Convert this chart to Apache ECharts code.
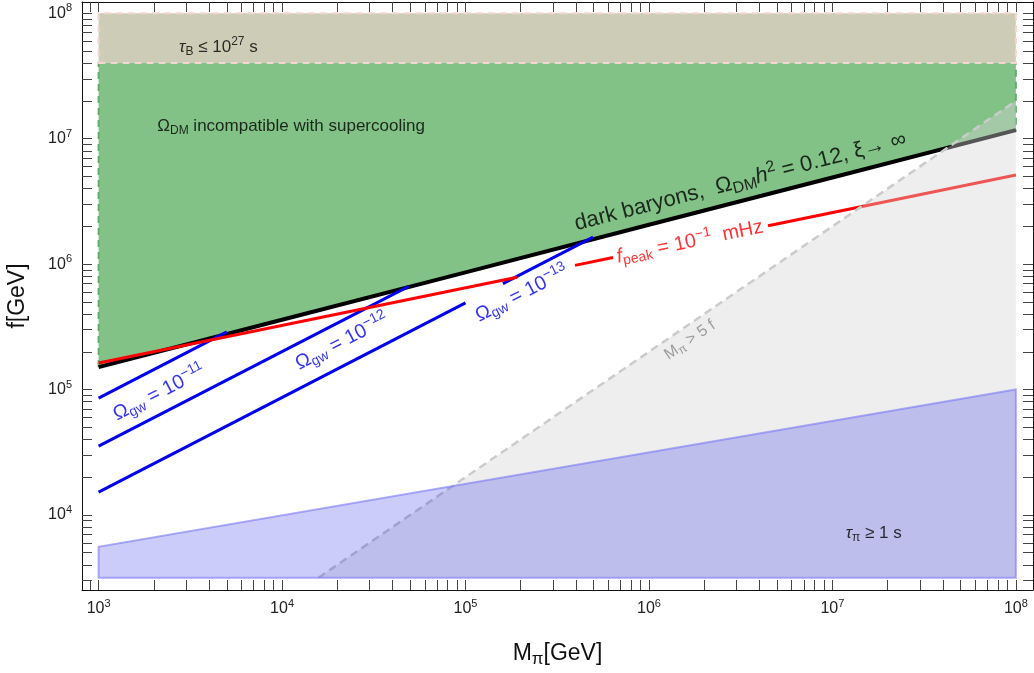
<!DOCTYPE html>
<html><head><meta charset="utf-8">
<script src="https://cdn.jsdelivr.net/npm/echarts@6/dist/echarts.min.js"></script>
<style>html,body{margin:0;padding:0;background:#fff}#c{width:1034px;height:673px}</style>
</head><body><div id="c"></div>
<script>
// ---------- data (GeV) ----------
const xRange = [812, 1.24e8];          // M_pi plot range
const yRange = [2523, 1.23e8];         // f plot range
const xMajor = [1e3, 1e4, 1e5, 1e6, 1e7, 1e8];
const yMajor = [1e4, 1e5, 1e6, 1e7, 1e8];

// dark baryons, Omega_DM h^2 = 0.12 (black line)
const darkM = [1e3, 1e4, 1e5, 1e6, 1e7, 1e8];
const darkF = [1.51e5, 3.6e5, 8.6e5, 2.06e6, 4.9e6, 1.17e7];
// tau_B region
const tauB_M = [1e3, 1e8];
const tauB_F = [4.02e7, 1e8];
// f_peak = 1e-1 mHz (red), three visible pieces
const peakM1 = [1e3, 1.91e5],   peakF1 = [1.63e5, 7.85e5];
const peakM2 = [3.95e5, 6.37e5], peakF2 = [9.77e5, 1.13e6];
const peakM3 = [4.46e6, 1e8],   peakF3 = [2.02e6, 5.14e6];
// Omega_gw lines (blue)
const gw11M = [1e3, 5e3],   gw11F = [8.55e4, 2.88e5];
const gw12M = [1e3, 4.9e4], gw12F = [3.54e4, 6.65e5];
const gw13M1 = [1e3, 1e5],  gw13F1 = [1.52e4, 4.91e5];
const gw13M2 = [1.6e5, 4.96e5], gw13F2 = [7.0e5, 1.64e6];
// M_pi > 5 f region (grey)
const greyM = [1.58e4, 1e8, 1e8];
const greyF = [3.16e3, 2e7, 3.16e3];
// tau_pi >= 1 s region (blue)
const tauPiM = [1e3, 1e3, 1e8, 1e8];
const tauPiF = [3.16e3, 5.57e3, 1e5, 3.16e3];

// ---------- helpers ----------
const L = Math.log10;
const pts = (xs, fs) => xs.map((x, i) => [L(x), L(fs[i])]);
function minorTicks(lo, hi) {
  const out = [];
  for (let n = 2; n <= 8; n++) for (let k = 1; k <= 9; k++) {
    const v = k * Math.pow(10, n);
    if (v >= lo && v <= hi) out.push(L(v));
  }
  return out;
}
const xTicks = minorTicks(xRange[0], xRange[1]);
const yTicks = minorTicks(yRange[0], yRange[1]);
const FONT = '"Liberation Sans", Arial, Helvetica, sans-serif';

function poly(verts, style, z) {
  return {
    type: 'custom', z: z, silent: true, data: verts,
    renderItem: (params, api) => {
      if (params.dataIndex !== 0) return null;
      return { type: 'polygon', shape: { points: verts.map(p => api.coord(p)) }, style: style };
    }
  };
}
function line(data, color, width, z, dash) {
  return { type: 'line', data: data, symbol: 'none', showSymbol: false, silent: true, z: z,
    lineStyle: { color: color, width: width, type: dash || 'solid', cap: 'butt' } };
}

const greenVerts = [[L(1e3), L(tauB_F[0])], [L(1e8), L(tauB_F[0])]].concat(pts(darkM, darkF).reverse());
const tanVerts = [[L(tauB_M[0]), L(tauB_F[0])], [L(tauB_M[1]), L(tauB_F[0])], [L(tauB_M[1]), L(tauB_F[1])], [L(tauB_M[0]), L(tauB_F[1])]];

function rich(fs, color) {
  const s = Math.round(fs * 0.72);
  return {
    sb: { fontSize: s, color: color, fontFamily: FONT, padding: [Math.round(fs * 0.5), 0, 0, 0] },
    sp: { fontSize: s, color: color, fontFamily: FONT, padding: [0, 0, Math.round(fs * 0.6), 0] },
    it: { fontSize: fs, color: color, fontFamily: FONT, fontStyle: 'italic' }
  };
}
function lab(x, f, text, rot, color, fs) {
  return { value: [L(x), L(f)], label: { formatter: text, rotate: rot, color: color, fontSize: fs, rich: rich(fs, color) } };
}
const labels = [
  lab(4.5e3, 5.4e7, '{it|τ}{sb|B} ≤ 10{sp|27} s', 0, '#000', 17),
  lab(1.12e4, 1.26e7, 'Ω{sb|DM} incompatible with supercooling', 0, '#000', 17),
  lab(3.15e6, 4.55e6, 'dark baryons,  Ω{sb|DM}{it|h}{sp|2} = 0.12, ξ→ ∞', 14.5, '#000', 22),
  lab(1.67e6, 1.5e6, '{it|f}{sb|peak} = 10{sp|−1}  mHz', 11.8, '#ff0000', 20),
  lab(2.14e3, 9.4e4, 'Ω{sb|gw} = 10{sp|−11}', 27.2, '#0000ee', 20),
  lab(2.12e4, 2.4e5, 'Ω{sb|gw} = 10{sp|−12}', 27.2, '#0000ee', 20),
  lab(2.03e5, 5.8e5, 'Ω{sb|gw} = 10{sp|−13}', 27.2, '#0000ee', 20),
  lab(1.67e6, 2.48e5, 'M{sb|π} > 5 f', 34.3, '#888', 16),
  lab(1.68e7, 7.2e3, '{it|τ}{sb|π} ≥ 1 s', 0, '#000', 17)
];

function axisCommon(ticks, min, max) {
  return {
    type: 'value', min: L(min), max: L(max), splitLine: { show: false },
    axisLine: { show: true, onZero: false, lineStyle: { color: '#111', width: 1 } },
    axisTick: { show: true, inside: true, length: 10, customValues: ticks, lineStyle: { color: '#444', width: 1 } }
  };
}
const supRich = { s: { fontSize: 11, fontFamily: FONT, color: '#222', padding: [0, 0, 10, 0] } };

const option = {
  animation: false,
  backgroundColor: '#fff',
  textStyle: { fontFamily: FONT },
  grid: { left: 82, right: 1, top: 2, bottom: 83, containLabel: false, outerBoundsMode: 'none' },
  xAxis: [
    Object.assign(axisCommon(xTicks, xRange[0], xRange[1]), {
      position: 'bottom',
      axisLabel: { customValues: xMajor.map(L), formatter: v => '10{s|' + Math.round(v) + '}', rich: supRich, fontSize: 16, color: '#222', margin: 8, fontFamily: FONT },
      name: 'M{s|π}[GeV]', nameLocation: 'middle', nameGap: 50,
      nameTextStyle: { fontSize: 23, color: '#111', fontFamily: FONT, rich: { s: { fontSize: 17, fontFamily: FONT, color: '#111', padding: [11, 0, 0, 0] } } }
    }),
    Object.assign(axisCommon(xTicks, xRange[0], xRange[1]), { position: 'top', axisLabel: { show: false } })
  ],
  yAxis: [
    Object.assign(axisCommon(yTicks, yRange[0], yRange[1]), {
      position: 'left',
      axisLabel: { customValues: yMajor.map(L), formatter: v => '10{s|' + Math.round(v) + '}', rich: supRich, fontSize: 16, color: '#222', margin: 10, fontFamily: FONT },
      name: 'f[GeV]', nameLocation: 'middle', nameGap: 53,
      nameTextStyle: { fontSize: 23, color: '#111', fontFamily: FONT }
    }),
    Object.assign(axisCommon(yTicks, yRange[0], yRange[1]), { position: 'right', axisLabel: { show: false } })
  ],
  series: [
    poly(greenVerts, { fill: '#83c287', stroke: '#63ad68', lineWidth: 2, lineDash: [7, 5] }, 1),
    poly(tanVerts, { fill: '#cdcdb7', stroke: '#f3d6cf', lineWidth: 2, lineDash: [7, 5] }, 2),
    line(pts(darkM, darkF), '#000', 4, 3),
    line(pts(gw11M, gw11F), '#0000ee', 3, 4),
    line(pts(gw12M, gw12F), '#0000ee', 3, 4),
    line(pts(gw13M1, gw13F1), '#0000ee', 3, 4),
    line(pts(gw13M2, gw13F2), '#0000ee', 3, 4),
    line(pts(peakM1, peakF1), '#ff0000', 3, 5),
    line(pts(peakM2, peakF2), '#ff0000', 3, 5),
    line(pts(peakM3, peakF3), '#ff0000', 3, 5),
    poly(pts(greyM, greyF), { fill: 'rgba(212,212,212,0.4)' }, 6),
    line(pts(greyM.slice(0, 2), greyF.slice(0, 2)), '#cbcbcb', 2.5, 6, [8, 5]),
    poly(pts(tauPiM, tauPiF), { fill: 'rgba(0,0,230,0.2)', stroke: 'rgba(120,120,245,0.6)', lineWidth: 2 }, 7),
    {
      type: 'scatter', z: 10, silent: true, symbolSize: 1, itemStyle: { color: 'rgba(0,0,0,0)' },
      label: { show: true, position: 'inside', fontFamily: FONT },
      data: labels
    }
  ]
};
const chart = echarts.init(document.getElementById('c'), null, { renderer: 'canvas' });
chart.setOption(option);
</script></body></html>
